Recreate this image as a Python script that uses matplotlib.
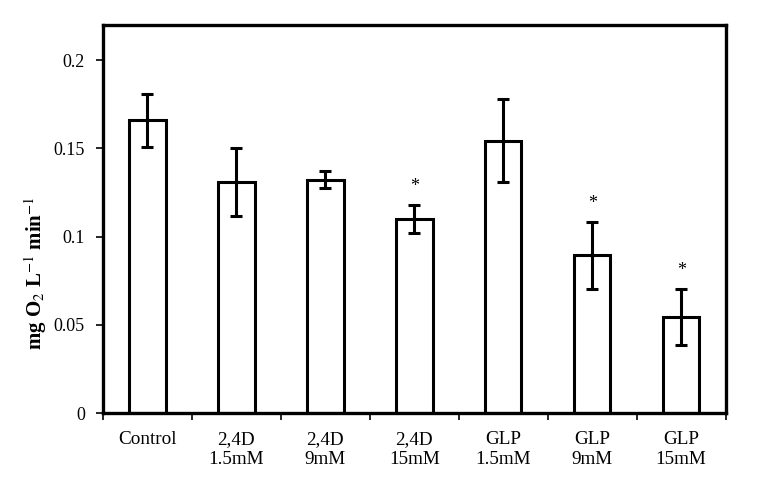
import matplotlib.pyplot as plt
from matplotlib.ticker import FixedLocator

plt.rcParams['font.family'] = ['Liberation Serif', 'DejaVu Serif']
plt.rcParams['mathtext.fontset'] = 'stix'

# Respiration rate per treatment
groups = ['Control', '2,4D\n1.5mM', '2,4D\n9mM', '2,4D\n15mM',
          'GLP\n1.5mM', 'GLP\n9mM', 'GLP\n15mM']
rates = [0.166, 0.131, 0.1324, 0.110, 0.1545, 0.0896, 0.0544]
errors = [0.015, 0.019, 0.005, 0.008, 0.0235, 0.019, 0.016]
significant = [False, False, False, True, False, True, True]

fig = plt.figure(figsize=(7.59, 4.86), dpi=100)
ax = fig.add_axes([0.1357, 0.150, 0.8203, 0.7986])

pos = list(range(len(groups)))
ax.bar(pos, rates, width=0.41, color='white', edgecolor='black', linewidth=2.2)
ax.errorbar(pos, rates, yerr=errors, fmt='none', ecolor='black',
            elinewidth=2.2, capsize=4.5, capthick=2.2)

# Significance stars above the error bars
for i, (r, e, s) in enumerate(zip(rates, errors, significant)):
    if s:
        ax.text(i, r + e + 0.0055, '*', ha='center', va='bottom', fontsize=13)

ax.set_xlim(-0.5, len(groups) - 0.5)
ax.set_ylim(0, 0.22)
ax.set_yticks([0, 0.05, 0.1, 0.15, 0.2])
ax.set_yticklabels(['0', '0.05', '0.1', '0.15', '0.2'], fontsize=13)
ax.set_xticks(pos)
ax.set_xticklabels(groups, fontsize=13.8, linespacing=1.25)
ax.xaxis.set_minor_locator(FixedLocator([p - 0.5 for p in range(len(groups) + 1)]))
ax.tick_params(axis='x', which='major', length=0, pad=13)
ax.tick_params(axis='x', which='minor', length=5, width=1.2, direction='out')
ax.tick_params(axis='y', length=5, width=1.2, direction='out', pad=8)

for sp in ax.spines.values():
    sp.set_linewidth(2.4)

ax.set_ylabel('mg O$_2$ L$^{-1}$ min$^{-1}$', fontsize=15, fontweight='bold')
ax.yaxis.set_label_coords(-0.086, 0.361)

fig.savefig('out.png', dpi=100)
